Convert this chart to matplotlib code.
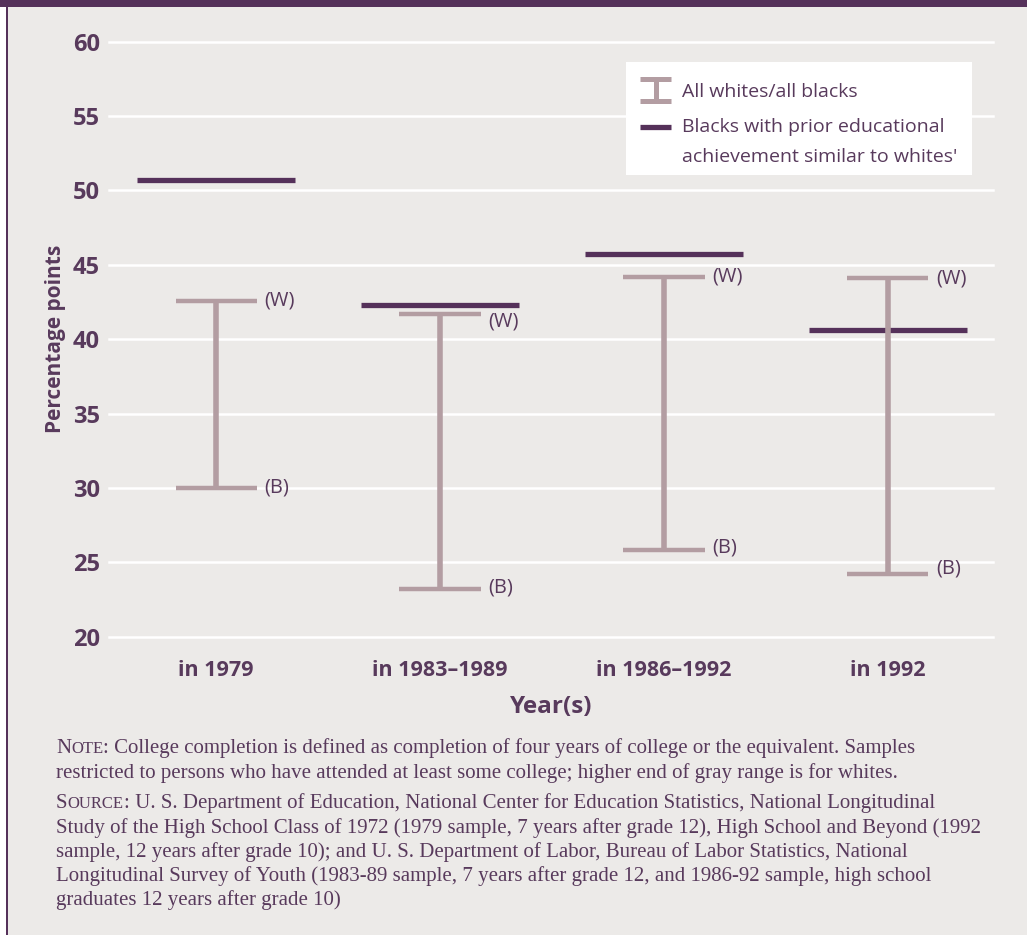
import matplotlib.pyplot as plt
import numpy as np
from matplotlib.patches import Rectangle
from matplotlib.lines import Line2D

# data (percentage points)
periods = ["in 1979", "in 1983\u20131989", "in 1986\u20131992", "in 1992"]
whites_gap = [42.6, 41.7, 44.2, 44.1]
blacks_gap = [30.0, 23.2, 25.8, 24.2]
similar_gap = [50.7, 42.3, 45.7, 40.6]
y_ticks = [20, 25, 30, 35, 40, 45, 50, 55, 60]

note_lines = [
    "restricted to persons who have attended at least some college; higher end of gray range is for whites.",
]
source_lines = [
    "Study of the High School Class of 1972 (1979 sample, 7 years after grade 12), High School and Beyond (1992",
    "sample, 12 years after grade 10); and U. S. Department of Labor, Bureau of Labor Statistics, National",
    "Longitudinal Survey of Youth (1983-89 sample, 7 years after grade 12, and 1986-92 sample, high school",
    "graduates 12 years after grade 10)",
]

BG = '#ECEAE8'
PURPLE = '#55315A'
MAUVE = '#B39DA2'
TEXT = '#583A5C'

plt.rcParams['font.family'] = ['Open Sans', 'DejaVu Sans']
plt.rcParams['text.color'] = TEXT

W, H = 1027, 935


def fx(x):
    return x / W


def fy(y):
    return 1 - y / H


fig = plt.figure(figsize=(W / 100, H / 100), dpi=100, facecolor=BG)

# frame: white strip + thin purple rule on the left, purple band on top
fig.add_artist(Rectangle((0, 0), fx(6), 1, transform=fig.transFigure, color='white', lw=0))
fig.add_artist(Rectangle((fx(6), 0), fx(1.6), 1, transform=fig.transFigure, color=PURPLE, lw=0))
fig.add_artist(Rectangle((0, fy(7)), 1, 7 / H, transform=fig.transFigure, color=PURPLE, lw=0))

ax = fig.add_axes([fx(109), fy(636.7), fx(993) - fx(109), (636.7 - 41.7) / H])
ax.set_facecolor('none')
ax.set_xlim(-0.478, 3.469)
ax.set_ylim(20, 60)
for s in ax.spines.values():
    s.set_visible(False)

for t in y_ticks:
    ax.axhline(t, color='white', lw=1.8, zorder=0, clip_on=False)

x = np.arange(len(periods))
cap = 0.181
bar = 0.353
ax.hlines(similar_gap, x - bar, x + bar, color=PURPLE, lw=3.8, zorder=2)
ax.vlines(x, blacks_gap, whites_gap, color=MAUVE, lw=4.0, zorder=3)
ax.hlines(whites_gap, x - cap, x + cap, color=MAUVE, lw=3.2, zorder=3)
ax.hlines(blacks_gap, x - cap, x + cap, color=MAUVE, lw=3.2, zorder=3)

# small vertical nudges for the (W)/(B) tags, in pixels
w_nudge = [0, -8, 0, 0]
b_nudge = [0, 2, 3, 6]
for i in range(len(periods)):
    ax.annotate("(W)", (x[i] + cap, whites_gap[i]), xytext=(8, w_nudge[i]),
                textcoords='offset pixels', ha='left', va='center', fontsize=14.5)
    ax.annotate("(B)", (x[i] + cap, blacks_gap[i]), xytext=(8, b_nudge[i]),
                textcoords='offset pixels', ha='left', va='center', fontsize=14.5)

ax.set_yticks(y_ticks)
ax.set_yticklabels([str(t) for t in y_ticks], fontsize=17, fontweight='bold', color=TEXT)
ax.set_xticks(x)
ax.set_xticklabels(periods, fontsize=15.5, fontweight='bold', color=TEXT)
ax.tick_params(axis='y', length=0, pad=6.5)
ax.tick_params(axis='x', length=0, pad=16.5)

fig.text(fx(551), fy(713), "Year(s)", ha='center', va='baseline',
         fontsize=17.5, fontweight='bold')
fig.text(fx(56), fy(339), "Percentage points", rotation=90, ha='center', va='center',
         fontsize=15, fontweight='bold')

# legend box
fig.add_artist(Rectangle((fx(626), fy(175)), fx(972) - fx(626), (175 - 62) / H,
                         transform=fig.transFigure, facecolor='white', lw=0))
for seg in [((640, 671), (79, 79)), ((640, 671), (101, 101)), ((655.5, 655.5), (79, 101))]:
    fig.add_artist(Line2D([fx(v) for v in seg[0]], [fy(v) for v in seg[1]],
                          transform=fig.transFigure, color=MAUVE, lw=3.6, solid_capstyle='butt'))
fig.add_artist(Line2D([fx(640), fx(671)], [fy(127), fy(127)], transform=fig.transFigure,
                      color=PURPLE, lw=3.8, solid_capstyle='butt'))
fig.text(fx(682), fy(92), "All whites/all blacks", va='center', fontsize=14)
fig.text(fx(682), fy(127), "Blacks with prior educational", va='center', fontsize=14)
fig.text(fx(682), fy(157), "achievement similar to whites'", va='center', fontsize=14)

# notes, set in a serif face with small caps lead-ins
SERIF = ['Liberation Serif', 'DejaVu Serif']
NOTE_SIZE = 15


def smallcaps_line(xp, yp, head, rest):
    t = fig.text(fx(xp), fy(yp), head[0], family=SERIF, fontsize=NOTE_SIZE, va='baseline')
    t2 = ax.annotate(head[1:], xy=(1, fy(yp)), xycoords=(t, 'figure fraction'),
                     family=SERIF, fontsize=NOTE_SIZE * 0.8, va='baseline',
                     annotation_clip=False)
    ax.annotate(rest, xy=(1, fy(yp)), xycoords=(t2, 'figure fraction'),
                family=SERIF, fontsize=NOTE_SIZE, va='baseline', annotation_clip=False)


smallcaps_line(56, 753.3, "NOTE",
               ": College completion is defined as completion of four years of college or the equivalent. Samples")
for k, line in enumerate(note_lines):
    fig.text(fx(56), fy(777.7 + 24.4 * k), line, family=SERIF, fontsize=NOTE_SIZE, va='baseline')

smallcaps_line(56, 808.3, "SOURCE",
               ": U. S. Department of Education, National Center for Education Statistics, National Longitudinal")
for k, line in enumerate(source_lines):
    fig.text(fx(56), fy(832.6 + 24.2 * k), line, family=SERIF, fontsize=NOTE_SIZE, va='baseline')

fig.savefig("out.png", dpi=100, facecolor=BG)
